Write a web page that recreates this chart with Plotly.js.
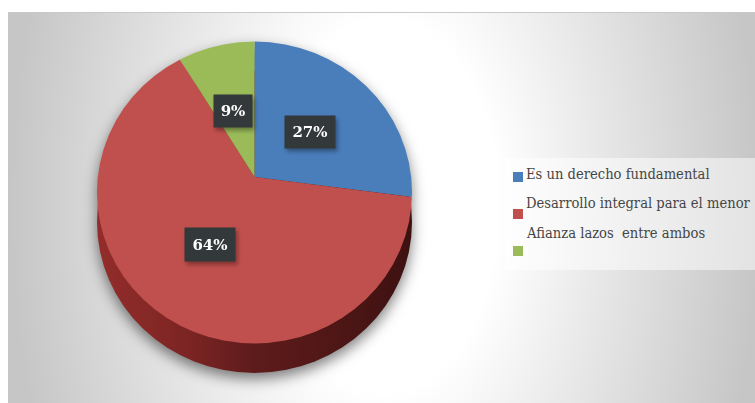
<!DOCTYPE html>
<html>
<head>
<meta charset="utf-8">
<script src="https://cdn.plot.ly/plotly-3.0.1.min.js"></script>
<style>
  html, body { margin: 0; padding: 0; background: #fff; }
  #wrap { position: relative; width: 755px; height: 403px; overflow: hidden; background: #fff; }
  /* Grey studio-style backdrop behind the chart */
  #backdrop {
    position: absolute; left: 8px; top: 12px; right: 0; bottom: 0;
    border-top: 1px solid #c9c9c9;
    background: radial-gradient(ellipse 375px 620px at 377px 193px,
      #ffffff 0%, #ffffff 30%, #e6e6e6 60%, #c6c6c6 100%);
  }
  #chart { position: absolute; left: 0; top: 0; }
</style>
</head>
<body>
<div id="wrap">
  <div id="backdrop"></div>
  <div id="chart"></div>
</div>
<script>
// Survey answers and their shares, in percent
const categories = ['Es un derecho fundamental', 'Desarrollo integral para el menor', 'Afianza lazos  entre ambos'];
const shares = [27, 64, 9];
const sliceColors = ['#4a7ebb', '#c0504d', '#9bbb59'];
const labelColor = '#33383b';

const W = 755, H = 403;
const face = { cx: 254.5, cy: 192.5, rx: 157.5, ry: 151 };
const hub = { x: 254.5, y: 177, r: 170 };
const wallCy = 222;
const labelBoxes = [
  { x: 310, y: 132, w: 50, h: 32 },
  { x: 210, y: 244, w: 50, h: 33 },
  { x: 233, y: 111, w: 38, h: 32 }
];

function domainFor(cx, cy, r) {
  return { x: [(cx - r) / W, (cx + r) / W], y: [1 - (cy + r) / H, 1 - (cy - r) / H] };
}

const total = shares.reduce((a, b) => a + b, 0);

const wall = {
  type: 'pie', values: [total], labels: ['pared'], showlegend: false, sort: false,
  textinfo: 'none', hoverinfo: 'skip',
  marker: { colors: ['#6e1f1f'], line: { width: 0 } },
  domain: domainFor(hub.x, wallCy, hub.r)
};

const top_ = {
  type: 'pie', values: shares, labels: categories, sort: false, direction: 'clockwise', rotation: 0,
  textinfo: 'none', marker: { colors: sliceColors, line: { width: 0 } },
  domain: domainFor(hub.x, hub.y, hub.r)
};

const layout = {
  width: W, height: H, autosize: false,
  margin: { l: 0, r: 0, t: 0, b: 0 },
  paper_bgcolor: 'rgba(0,0,0,0)', plot_bgcolor: 'rgba(0,0,0,0)',
  showlegend: true,
  // The rows are placed individually below, so the legend box itself stays well inside the page
  legend: {
    x: 440 / W, y: 1 - 160 / H, xanchor: 'left', yanchor: 'top',
    bgcolor: 'rgba(0,0,0,0)', borderwidth: 0,
    font: { family: '"DejaVu Serif Condensed", "DejaVu Serif", serif', size: 14.6, color: '#454545' }
  },
  shapes: [{
    type: 'rect', xref: 'paper', yref: 'paper', layer: 'below',
    x0: 505 / W, x1: 1, y0: 1 - 270 / H, y1: 1 - 158 / H,
    fillcolor: 'rgba(255,255,255,0.5)', line: { width: 0 }
  }],
  annotations: shares.map((v, i) => ({
    xref: 'paper', yref: 'paper', showarrow: false,
    x: labelBoxes[i].x / W, y: 1 - labelBoxes[i].y / H,
    xanchor: 'center', yanchor: 'middle',
    width: labelBoxes[i].w, height: labelBoxes[i].h,
    text: '<b>' + v + '%</b>', bgcolor: labelColor, borderpad: 0,
    font: { family: '"DejaVu Serif", serif', size: 15, color: '#ffffff' }
  }))
};

Plotly.newPlot('chart', [wall, top_], layout, { displayModeBar: false }).then(() => {
  const root = document.getElementById('chart');
  const svg = root.querySelector('svg.main-svg');

  // Side wall shading, lit from the left and falling off to the right
  const ns = 'http://www.w3.org/2000/svg';
  const grad = document.createElementNS(ns, 'linearGradient');
  grad.setAttribute('id', 'wallShade');
  [[0, '#962e2c'], [0.3, '#7c2524'], [0.5, '#5e1b1b'], [0.75, '#4e1616'], [1, '#3a1010']].forEach(([o, c]) => {
    const s = document.createElementNS(ns, 'stop');
    s.setAttribute('offset', o);
    s.setAttribute('stop-color', c);
    grad.appendChild(s);
  });
  svg.querySelector('defs').appendChild(grad);

  const traces = root.querySelectorAll('.pielayer .trace');
  traces[0].querySelectorAll('path.surface').forEach(p => { p.style.fill = 'url(#wallShade)'; });
  traces[0].style.clipPath = `ellipse(${face.rx}px ${face.ry}px at ${face.cx}px ${wallCy}px) view-box`;
  traces[1].style.clipPath = `ellipse(${face.rx}px ${face.ry}px at ${face.cx}px ${face.cy}px) view-box`;
  root.querySelector('.pielayer').style.filter = 'drop-shadow(0 6px 7px rgba(0,0,0,0.5))';

  // Soft shadow under the value labels
  root.querySelectorAll('.annotation').forEach(a => { a.style.filter = 'drop-shadow(2px 3px 2px rgba(0,0,0,0.35))'; });

  // Legend rows: swatches sit a little below the line of text they belong to
  const rows = [
    { text: 173, swatch: 177 },
    { text: 202, swatch: 214 },
    { text: 232, swatch: 251 }
  ];
  const scroll = root.querySelector('.legend .scrollbox');
  if (scroll) scroll.removeAttribute('clip-path');
  root.querySelectorAll('.legend .traces').forEach((row, i) => {
    const txt = row.querySelector('.legendtext');
    const pts = row.querySelector('.legendpoints');
    const tb = txt.getBoundingClientRect();
    const pb = pts.getBoundingClientRect();
    txt.setAttribute('transform', `translate(${526 - tb.left},${rows[i].text - (tb.top + tb.bottom) / 2})`);
    const pcx = (pb.left + pb.right) / 2, pcy = (pb.top + pb.bottom) / 2;
    const k = 10 / pb.width;
    const local = pts.getCTM();
    const ox = pcx - local.e, oy = pcy - local.f;
    pts.setAttribute('transform', `translate(${518 - local.e - ox * k},${rows[i].swatch - local.f - oy * k}) scale(${k})`);
  });
});
</script>
</body>
</html>
